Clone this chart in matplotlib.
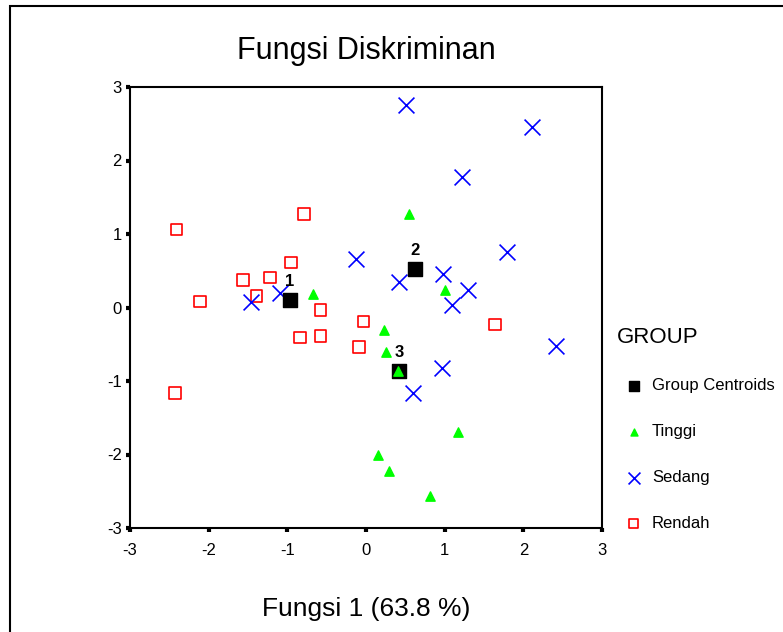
import matplotlib.pyplot as plt
from matplotlib.patches import Rectangle

plt.rcParams['font.family'] = ['Liberation Sans', 'DejaVu Sans']
plt.rcParams['axes.unicode_minus'] = False

# group centroids
cent_x = [-0.97, 0.62, 0.42]
cent_y = [0.10, 0.52, -0.87]
cent_lbl = ['1', '2', '3']

# Tinggi
tinggi_x = [0.55, 1.00, -0.67, 0.23, 0.25, 0.41, 1.17, 0.15, 0.29, 0.81]
tinggi_y = [1.27, 0.24, 0.18, -0.30, -0.61, -0.87, -1.70, -2.00, -2.22, -2.56]

# Sedang
sedang_x = [0.51, 2.11, 1.22, 1.79, -0.13, 0.42, 0.98, 1.30, 1.09, -1.09, -1.46, 2.41, 0.97, 0.60]
sedang_y = [2.75, 2.45, 1.77, 0.75, 0.66, 0.35, 0.46, 0.24, 0.04, 0.20, 0.08, -0.53, -0.82, -1.16]

# Rendah
rendah_x = [-2.41, -0.79, -0.95, -1.56, -1.22, -1.39, -2.11, -0.58, -0.84, -0.58, -0.03, -0.09, 1.64, -2.43]
rendah_y = [1.06, 1.27, 0.61, 0.37, 0.41, 0.16, 0.08, -0.03, -0.41, -0.39, -0.19, -0.54, -0.23, -1.16]

ticks = [-3, -2, -1, 0, 1, 2, 3]

fig = plt.figure(figsize=(7.83, 6.32), dpi=100)
fig.patches.append(Rectangle((10 / 783, -0.1), 1.2, 1 - 6 / 632 + 0.1,
                             transform=fig.transFigure, fill=False,
                             edgecolor='black', linewidth=1.5))
ax = fig.add_axes([130 / 783, 1 - 528 / 632, 472 / 783, 441 / 632])

ax.scatter(rendah_x, rendah_y, marker='s', s=70, facecolors='none',
           edgecolors='#ff0000', linewidths=1.2, label='Rendah', zorder=2)
ax.scatter(sedang_x, sedang_y, marker='x', s=130, color='#0000ff',
           linewidths=1.2, label='Sedang', zorder=3)
ax.scatter(cent_x, cent_y, marker='s', s=110, color='black',
           label='Group Centroids', zorder=4)
ax.scatter(tinggi_x, tinggi_y, marker='^', s=45, color='#00ff00',
           label='Tinggi', zorder=5)
for x, y, t in zip(cent_x, cent_y, cent_lbl):
    ax.annotate(t, (x, y), xytext=(0, 8), textcoords='offset points',
                ha='center', va='bottom', fontsize=12, fontweight='bold')

ax.set_xlim(-3, 3)
ax.set_ylim(-3, 3)
ax.set_xticks(ticks)
ax.set_yticks(ticks)
ax.tick_params(direction='out', length=3, width=3, labelsize=12)
ax.tick_params(axis='x', pad=8)
ax.tick_params(axis='y', pad=3)
for sp in ax.spines.values():
    sp.set_linewidth(1.5)

ax.set_title('Fungsi Diskriminan', fontsize=22, pad=20)
ax.set_xlabel('Fungsi 1 (63.8 %)', fontsize=19, labelpad=28)

h, l = ax.get_legend_handles_labels()
order = [2, 3, 1, 0]
leg = ax.legend([h[i] for i in order], [l[i] for i in order], title='GROUP',
                loc='upper left', bbox_to_anchor=(1.0, 0.49), frameon=False,
                fontsize=12, title_fontsize=16, labelspacing=1.85,
                handletextpad=0.1, markerscale=0.75)
leg._legend_box.align = 'left'
leg._legend_box.sep = 22

fig.savefig('out.png', dpi=100)
